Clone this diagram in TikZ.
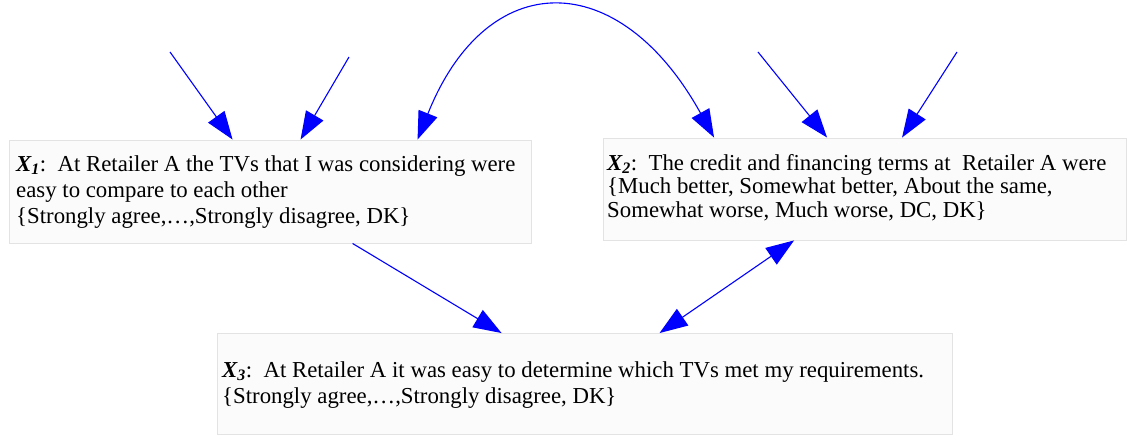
\documentclass[tikz,border=0pt]{standalone}
\usepackage{fontspec}
\setmainfont{Liberation Serif}
\usetikzlibrary{arrows.meta}
\begin{document}
\begin{tikzpicture}[x=1pt,y=1pt,
  box/.style={draw=black!11, fill=black!1.5, line width=0.9pt, inner sep=0pt},
  txt/.style={anchor=north west, inner sep=0pt, align=left},
  arr/.style={blue, line width=1.1pt, -{Triangle[length=28pt,width=20pt]}},
  darr/.style={blue, line width=1.1pt, {Triangle[length=28pt,width=20pt]}-{Triangle[length=28pt,width=20pt]}}]
\useasboundingbox (0,0) rectangle (1127,435);
% boxes
\node[box, minimum width=522pt, minimum height=103pt] (x1) at (270,243.5) {};
\node[box, minimum width=523pt, minimum height=102pt] (x2) at (865,246) {};
\node[box, minimum width=735pt, minimum height=101pt] (x3) at (584.5,51) {};
% texts
\node[txt, font=\fontsize{22.8}{26}\selectfont] (t1) at (16,280)
  {{\bfseries\itshape X\textsubscript{1}}:\ \ At Retailer A the TVs that I was considering were\\
   easy to compare to each other\\
   \{Strongly agree,\ldots,Strongly disagree, DK\}};
\node[txt, font=\fontsize{22.8}{23.5}\selectfont] (t2) at (607,281)
  {{\bfseries\itshape X\textsubscript{2}}:\ \ The credit and financing terms at\ \ Retailer A were\\
   \{Much better, Somewhat better, About the same,\\
   Somewhat worse, Much worse, DC, DK\}};
\node[txt, font=\fontsize{22.8}{26}\selectfont] (t3) at (222,74)
  {{\bfseries\itshape X\textsubscript{3}}:\ \ At Retailer A it was easy to determine which TVs met my requirements.\\
   \{Strongly agree,\ldots,Strongly disagree, DK\}};
% free ends
\coordinate (s1) at (170,383);
\coordinate (s2) at (349,378);
\coordinate (s3) at (758,383);
\coordinate (s4) at (957,383);
% connectors
\draw[arr] (s1) -- ([xshift=224pt]x1.north west);
\draw[arr] (s2) -- ([xshift=292pt]x1.north west);
\draw[arr] (s3) -- ([xshift=224pt]x2.north west);
\draw[arr] (s4) -- ([xshift=299pt]x2.north west);
\draw[darr] ([xshift=409pt]x1.north west) .. controls (487,469) and (619,469) .. ([xshift=111pt]x2.north west);
\draw[arr] ([xshift=344pt]x1.south west) -- ([xshift=285pt]x3.north west);
\draw[darr] ([xshift=191pt]x2.south west) -- ([xshift=443pt]x3.north west);
\end{tikzpicture}
\end{document}
